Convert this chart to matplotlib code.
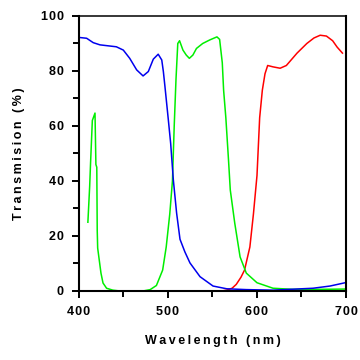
import matplotlib
matplotlib.use('Agg')
import matplotlib.pyplot as plt
from matplotlib.ticker import MultipleLocator

plt.rcParams['font.family'] = ['Liberation Sans', 'DejaVu Sans']

# blue filter
wl_blue = [400, 408.6, 416, 423.6, 442, 449.8, 457, 464.8, 472, 477.9, 483.5, 489, 493,
           494.8, 496.6, 500.4, 503, 506, 509.7, 513.5, 519, 524.7, 536, 550.6, 566,
           588, 618, 663, 682, 699]
tr_blue = [92.2, 91.9, 90.3, 89.5, 88.8, 87.6, 84.6, 80.4, 78.2, 79.8, 84.3, 86.1, 84,
           79.8, 74.3, 62.2, 53.7, 40.4, 28.3, 18.8, 14.2, 10.2, 5.2, 1.8, 0.8,
           0.5, 0.3, 1.0, 1.8, 3.0]

# green filter
wl_green = [410, 412, 413, 415, 418, 419, 420, 420.5, 421, 424.7, 427, 431, 438, 446,
            472, 480, 487, 494, 498, 502, 505, 507, 509, 511, 513, 516.8, 520.5, 524,
            528, 532, 539, 547, 555, 558, 561, 562.5, 565, 568, 570, 575, 581, 588,
            600, 618, 640, 670, 700]
tr_green = [25, 38, 46.5, 62, 64.7, 46, 45, 22, 15.6, 6.5, 2.9, 1.0, 0.3, 0,
            0, 0.5, 2, 7.6, 16, 28, 40, 60, 77, 90, 91, 87.6, 85.8, 84.6,
            85.8, 88.2, 90, 91.3, 92.4, 91.5, 83, 73, 63, 47.6, 36.7, 24.7, 12.4, 6.5,
            3, 1, 0.6, 0.6, 0.7]

# red filter
wl_red = [400, 560, 566, 572, 576.7, 582, 586, 592, 596, 600, 603, 606, 609, 612, 618,
          626, 633, 645, 656, 664, 671, 678, 685, 690, 696]
tr_red = [0, 0, 0.3, 1, 2.4, 5, 7.6, 16, 28, 42, 63, 73, 79, 82, 81.5,
          81, 82, 86.5, 90, 92, 93, 92.7, 91, 88.7, 86.5]

fig = plt.figure(figsize=(3.6, 3.6), dpi=100)
ax = fig.add_axes([0.2194, 0.1917, 0.7417, 0.7639])

ax.plot(wl_red, tr_red, color='#ff0000', lw=1.1)
ax.plot(wl_green, tr_green, color='#00ee00', lw=1.1)
ax.plot(wl_blue, tr_blue, color='#0000ee', lw=1.1)

ax.set_xlim(400, 700)
ax.set_ylim(0, 100)
ax.xaxis.set_major_locator(MultipleLocator(100))
ax.xaxis.set_minor_locator(MultipleLocator(50))
ax.yaxis.set_major_locator(MultipleLocator(20))
ax.yaxis.set_minor_locator(MultipleLocator(10))

hs = '\u200a'
ax.set_xticks([400, 500, 600, 700])
ax.set_xticklabels([hs.join(str(v)) for v in [400, 500, 600, 700]])
ax.set_yticks([0, 20, 40, 60, 80, 100])
ax.set_yticklabels([hs.join(str(v)) for v in [0, 20, 40, 60, 80, 100]])

ax.tick_params(which='major', direction='out', length=5, width=1.4, pad=6,
               labelsize=9)
ax.tick_params(which='minor', direction='out', length=4, width=1.4)
for lab in ax.get_xticklabels() + ax.get_yticklabels():
    lab.set_fontweight('bold')

for side in ['left', 'bottom', 'right']:
    ax.spines[side].set_linewidth(1.5)
ax.spines['top'].set_linewidth(1.1)

ts = '\u2009'
ax.set_xlabel(ts.join('Wavelength (nm)'), fontsize=9, fontweight='bold', labelpad=12)
ax.set_ylabel(ts.join('Transmision (%)'), fontsize=9, fontweight='bold', labelpad=11)

fig.savefig('out.png', dpi=100)
